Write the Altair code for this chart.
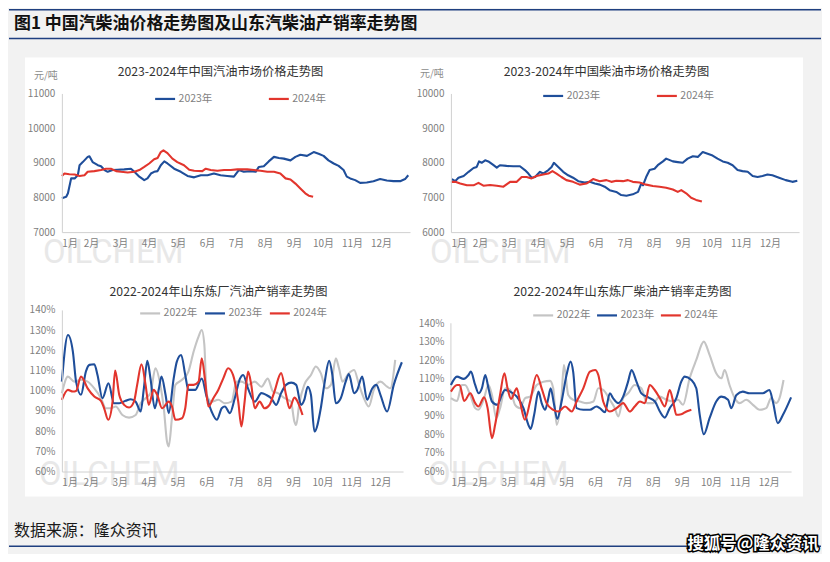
import altair as alt
import pandas as pd

# ---------------- labels ----------------
HEADER = "图1  中国汽柴油价格走势图及山东汽柴油产销率走势图"
FOOTER = "数据来源：隆众资讯"
SOURCE_MARK = "搜狐号@隆众资讯"
WATERMARK = "OILCHEM"
UNIT = "元/吨"
TITLES = [
    "2023-2024年中国汽油市场价格走势图",
    "2023-2024年中国柴油市场价格走势图",
    "2022-2024年山东炼厂汽油产销率走势图",
    "2022-2024年山东炼厂柴油产销率走势图",
]
MONTHS = ["1月", "2月", "3月", "4月", "5月", "6月", "7月", "8月", "9月", "10月", "11月", "12月"]
MONTH_POS = [0, 1, 2, 3, 4, 5, 6, 7, 8, 9, 10, 11]
GAS_PRICE_TICKS = [7000, 8000, 9000, 10000, 11000]
DSL_PRICE_TICKS = [6000, 7000, 8000, 9000, 10000]
RATIO_TICKS = [60, 70, 80, 90, 100, 110, 120, 130, 140]
YEARS_2 = ["2023年", "2024年"]
YEARS_3 = ["2022年", "2023年", "2024年"]
BLUE, RED, GREY = "#1f4e9a", "#e2352d", "#c4c4c4"

# ---------------- gasoline price (yuan/t), x = months since Jan 1 ----------------
gas_price_m23 = [0, 0.15, 0.21, 0.32, 0.44, 0.55, 0.61, 0.72, 0.89, 0.95,
                 1.06, 1.24, 1.35, 1.47, 1.58, 1.75, 1.92, 2.15, 2.38, 2.50,
                 2.67, 2.84, 2.95, 3.07, 3.18, 3.30, 3.41, 3.53, 3.64, 3.87,
                 4.10, 4.33, 4.56, 4.79, 5.02, 5.24, 5.47, 5.70, 5.93, 6.10,
                 6.27, 6.50, 6.68, 6.79, 6.96, 7.13, 7.31, 7.48, 7.65, 7.88,
                 8.05, 8.22, 8.45, 8.68, 8.85, 9.02, 9.19, 9.37, 9.54, 9.71,
                 9.82, 9.94, 10.11, 10.28, 10.51, 10.74, 10.97, 11.20, 11.43, 11.66,
                 11.83, 11.94]
gas_price_v23 = [7980, 8020, 8120, 8550, 8550, 8640, 8930, 9020, 9170, 9190,
                 9020, 8930, 8900, 8790, 8740, 8790, 8800, 8810, 8830, 8740,
                 8600, 8500, 8550, 8690, 8740, 8760, 8930, 9040, 8980, 8830,
                 8740, 8620, 8580, 8640, 8640, 8690, 8640, 8620, 8600, 8790,
                 8740, 8760, 8740, 8880, 8900, 9040, 9170, 9140, 9120, 9070,
                 9170, 9230, 9200, 9310, 9260, 9200, 9070, 8980, 8910, 8790,
                 8600, 8550, 8500, 8420, 8430, 8470, 8530, 8490, 8470, 8470,
                 8530, 8640]
gas_price_m24 = [0, 0.09, 0.26, 0.44, 0.61, 0.78, 0.89, 1.12, 1.35, 1.52,
                 1.69, 1.87, 2.04, 2.27, 2.50, 2.67, 2.84, 3.01, 3.18, 3.30,
                 3.41, 3.50, 3.64, 3.81, 3.98, 4.21, 4.39, 4.56, 4.84, 4.96,
                 5.13, 5.36, 5.59, 5.82, 6.05, 6.39, 6.62, 6.85, 7.08, 7.31,
                 7.53, 7.71, 7.88, 8.05, 8.22, 8.39, 8.51, 8.66]
gas_price_v24 = [8620, 8690, 8670, 8660, 8620, 8640, 8740, 8760, 8790, 8830,
                 8830, 8760, 8740, 8720, 8740, 8790, 8880, 8980, 9100, 9140,
                 9310, 9360, 9280, 9120, 9020, 8930, 8800, 8770, 8760, 8830,
                 8790, 8770, 8790, 8790, 8810, 8810, 8790, 8770, 8740, 8740,
                 8690, 8550, 8520, 8400, 8260, 8120, 8050, 8020]

# ---------------- diesel price (yuan/t) ----------------
dsl_price_m23 = [0.03, 0.15, 0.26, 0.44, 0.61, 0.78, 0.89, 0.97, 1.06, 1.18,
                 1.29, 1.47, 1.58, 1.69, 1.92, 2.15, 2.38, 2.55, 2.67, 2.78,
                 2.90, 3.07, 3.18, 3.36, 3.47, 3.55, 3.70, 3.87, 4.04, 4.21,
                 4.39, 4.61, 4.79, 4.96, 5.13, 5.30, 5.47, 5.70, 5.87, 6.05,
                 6.27, 6.45, 6.56, 6.62, 6.73, 6.85, 7.02, 7.13, 7.31, 7.42,
                 7.65, 7.82, 7.99, 8.16, 8.34, 8.51, 8.68, 8.85, 9.02, 9.19,
                 9.37, 9.54, 9.71, 9.88, 10.05, 10.23, 10.40, 10.57, 10.74, 10.91,
                 11.08, 11.31, 11.54, 11.77, 11.94]
dsl_price_v23 = [7530, 7470, 7570, 7620, 7740, 7850, 7880, 8040, 8000, 8070,
                 8040, 7930, 7860, 7930, 7910, 7900, 7900, 7790, 7690, 7570,
                 7590, 7740, 7690, 7790, 7880, 8000, 7880, 7740, 7640, 7570,
                 7470, 7430, 7450, 7400, 7370, 7310, 7210, 7160, 7070, 7050,
                 7090, 7160, 7400, 7350, 7590, 7790, 7830, 7930, 8040, 8120,
                 8040, 8020, 8000, 8120, 8190, 8170, 8310, 8260, 8210, 8120,
                 8040, 8000, 7930, 7790, 7760, 7740, 7620, 7590, 7620, 7660,
                 7640, 7570, 7500, 7450, 7480]
dsl_price_m24 = [0, 0.15, 0.32, 0.55, 0.78, 0.95, 1.12, 1.35, 1.58, 1.81,
                 2.04, 2.27, 2.44, 2.61, 2.78, 2.95, 3.18, 3.36, 3.50, 3.64,
                 3.81, 3.98, 4.21, 4.44, 4.67, 4.90, 5.13, 5.36, 5.53, 5.70,
                 5.93, 6.10, 6.27, 6.50, 6.73, 6.96, 7.19, 7.42, 7.65, 7.82,
                 7.94, 8.11, 8.28, 8.45, 8.65]
dsl_price_v24 = [7450, 7450, 7400, 7350, 7350, 7420, 7340, 7360, 7340, 7310,
                 7450, 7450, 7590, 7590, 7550, 7620, 7660, 7690, 7760, 7690,
                 7590, 7500, 7450, 7370, 7400, 7530, 7470, 7500, 7450, 7480,
                 7470, 7500, 7450, 7430, 7370, 7330, 7310, 7280, 7230, 7160,
                 7210, 7120, 6990, 6930, 6880]

# ---------------- Shandong gasoline sales ratio (%) ----------------
gas_ratio_m22 = [0, 0.21, 0.43, 0.66, 0.89, 1.12, 1.35, 1.52, 1.69, 1.86,
                 2.09, 2.32, 2.55, 2.72, 2.89, 3.06, 3.23, 3.40, 3.52, 3.63,
                 3.69, 3.80, 3.92, 4.15, 4.37, 4.55, 4.72, 4.83, 4.92, 5.00,
                 5.17, 5.40, 5.63, 5.86, 6.03, 6.20, 6.43, 6.66, 6.89, 7.11,
                 7.29, 7.46, 7.69, 7.91, 8.03, 8.09, 8.20, 8.37, 8.60, 8.77,
                 8.94, 9.12, 9.29, 9.46, 9.57, 9.69, 9.91, 10.09, 10.26, 10.43,
                 10.60, 10.77, 11.00, 11.23, 11.34, 11.51]
gas_ratio_v22 = [98.8, 107, 104.5, 105.4, 104.5, 101.2, 96.3, 91.3, 91.3, 92.2,
                 88, 86.7, 88, 93.8, 96.3, 98.8, 111.1, 102.9, 91.3, 74.8,
                 72.4, 86.4, 102.9, 105.4, 109.5, 119.4, 126.8, 130.1, 122.7, 97.9,
                 94.6, 95.5, 93.8, 94.6, 104.5, 104.5, 102.9, 104.5, 102, 106,
                 99.6, 98.8, 96.3, 94.6, 84.7, 83, 93.8, 102.9, 107.8, 112,
                 108.7, 101.2, 102.9, 116, 111.1, 104.5, 108.7, 110.3, 102.9, 96.3,
                 92.2, 100.4, 104.5, 102, 101.2, 115.3]
gas_ratio_m23 = [0, 0.21, 0.38, 0.49, 0.66, 0.83, 0.95, 1.12, 1.23, 1.40,
                 1.61, 1.80, 1.98, 2.20, 2.38, 2.55, 2.72, 2.83, 2.95, 3.06,
                 3.21, 3.35, 3.44, 3.58, 3.69, 3.86, 3.97, 4.12, 4.26, 4.37,
                 4.60, 4.83, 5.00, 5.17, 5.35, 5.52, 5.63, 5.80, 5.97, 6.15,
                 6.26, 6.43, 6.66, 6.89, 7.06, 7.23, 7.40, 7.57, 7.74, 7.92,
                 8.09, 8.26, 8.37, 8.49, 8.60, 8.72, 8.94, 9.06, 9.23, 9.34,
                 9.46, 9.63, 9.80, 9.91, 10.09, 10.20, 10.37, 10.54, 10.71, 10.86,
                 11.00, 11.23, 11.46, 11.74]
gas_ratio_v23 = [104.5, 127.6, 119.4, 104.5, 98, 109.5, 112.8, 113.1, 107.8, 96.3,
                 103.7, 93.8, 93.8, 95, 95.8, 94.6, 89.7, 101, 114.8, 106,
                 91.3, 101, 107, 98, 88.9, 106, 114.4, 117.7, 107.8, 100.4,
                 100.4, 106, 97, 89.7, 85.6, 91.3, 92.2, 88.9, 96.3, 106,
                 107.8, 101, 94.6, 98.8, 97.9, 96.3, 93, 98.8, 102.9, 104,
                 102.9, 93, 95.5, 102, 98, 79.8, 91.3, 102.9, 114.8, 107.8,
                 93.8, 96.3, 104.5, 108.2, 98.8, 100.4, 107, 95.5, 101, 102.9,
                 98, 89.7, 102.9, 114.1]
gas_ratio_m24 = [0, 0.21, 0.38, 0.49, 0.66, 0.89, 1.12, 1.35, 1.46, 1.60,
                 1.75, 1.84, 1.98, 2.15, 2.32, 2.49, 2.60, 2.75, 2.89, 3.00,
                 3.17, 3.29, 3.46, 3.69, 3.80, 3.92, 4.15, 4.26, 4.37, 4.55,
                 4.72, 4.83, 4.95, 5.06, 5.23, 5.40, 5.57, 5.74, 5.91, 6.09,
                 6.20, 6.31, 6.43, 6.54, 6.66, 6.83, 7.00, 7.17, 7.34, 7.57,
                 7.74, 7.86, 8.03, 8.14, 8.31]
gas_ratio_v24 = [95.5, 100.4, 99.6, 99.9, 107, 101.2, 97.1, 95, 91.3, 85.6,
                 94.6, 110, 98, 93, 91.7, 94.6, 102.9, 113.1, 102.9, 93,
                 100.4, 98, 91.3, 94.6, 92.2, 85.6, 86.4, 91.3, 102.9, 102.9,
                 104.5, 116, 104.5, 92.2, 96.3, 100.4, 106, 111.1, 107.8, 94.6,
                 82.3, 94.6, 109.5, 102.9, 91.3, 94.6, 91.3, 93, 99.6, 108.7,
                 98, 91.3, 96.6, 94.6, 88]

# ---------------- Shandong diesel sales ratio (%) ----------------
dsl_ratio_m22 = [0, 0.21, 0.38, 0.49, 0.67, 0.84, 0.95, 1.13, 1.30, 1.42,
                 1.57, 1.70, 1.88, 2.05, 2.22, 2.39, 2.57, 2.74, 2.97, 3.20,
                 3.43, 3.54, 3.66, 3.83, 3.91, 4.06, 4.23, 4.46, 4.70, 4.93,
                 5.10, 5.27, 5.50, 5.67, 5.79, 5.96, 6.13, 6.36, 6.59, 6.79,
                 6.99, 7.23, 7.46, 7.69, 7.86, 8.03, 8.26, 8.49, 8.75, 8.95,
                 9.18, 9.36, 9.47, 9.64, 9.82, 9.99, 10.22, 10.45, 10.68, 10.91,
                 11.08, 11.25, 11.37, 11.51]
dsl_ratio_v22 = [99.6, 98.1, 106.7, 106.7, 101.3, 94.2, 93.3, 98.7, 106.7, 101.3,
                 88.8, 94.2, 104.9, 104, 96, 94.2, 99.6, 100.4, 106.7, 108.5,
                 108.9, 104.9, 85.2, 101.3, 117.5, 101.3, 98.7, 97.8, 96.9, 97.8,
                 104.9, 104, 98.7, 94.2, 89.7, 99.6, 102.2, 106.7, 104.9, 96.9,
                 96.9, 100.4, 98.7, 97.8, 98.7, 96, 110.3, 120.2, 130.1, 122.9,
                 113, 110.3, 114.8, 106.7, 99.6, 96.9, 98.7, 96, 93.3, 94.2,
                 99.6, 96.9, 99.6, 109.4]
dsl_ratio_m23 = [0, 0.21, 0.44, 0.61, 0.69, 0.84, 0.96, 1.07, 1.19, 1.30,
                 1.42, 1.61, 1.76, 1.87, 2.05, 2.28, 2.51, 2.68, 2.76, 2.88,
                 3.03, 3.14, 3.26, 3.37, 3.45, 3.57, 3.68, 3.83, 4.00, 4.14,
                 4.23, 4.35, 4.58, 4.81, 5.04, 5.15, 5.33, 5.50, 5.61, 5.79,
                 5.96, 6.13, 6.25, 6.42, 6.59, 6.83, 7.06, 7.23, 7.40, 7.57,
                 7.80, 7.97, 8.09, 8.32, 8.49, 8.61, 8.75, 8.95, 9.18, 9.36,
                 9.59, 9.70, 9.88, 10.10, 10.33, 10.56, 10.79, 11.02, 11.14, 11.31,
                 11.49, 11.77]
dsl_ratio_v23 = [106.7, 111.2, 110, 112.1, 113.9, 106.7, 102.2, 104.9, 112.1, 104.9,
                 97.8, 96, 101.3, 104, 103.1, 100.4, 94.2, 85.2, 83, 90.6,
                 103.1, 96.9, 93.3, 99.6, 104.9, 96, 88.4, 97.8, 112.1, 119.3,
                 113.9, 94.2, 93.3, 93.3, 95.1, 94.2, 92, 102.2, 99.6, 96.9,
                 100.4, 108.5, 114.8, 108.5, 102.2, 100, 97.8, 92.4, 89.1, 94.2,
                 99.6, 108.5, 111.2, 109.4, 104.9, 90.6, 80.1, 88.8, 97.8, 100.4,
                 98.7, 94.2, 101.3, 103.1, 102.2, 102.2, 102.2, 104, 97.8, 86.1,
                 90.6, 100]
dsl_ratio_m24 = [0, 0.21, 0.30, 0.46, 0.67, 0.84, 0.95, 1.15, 1.27, 1.42,
                 1.53, 1.70, 1.85, 1.96, 2.08, 2.28, 2.39, 2.56, 2.74, 2.97,
                 3.14, 3.31, 3.54, 3.72, 3.95, 4.18, 4.35, 4.58, 4.81, 4.99,
                 5.10, 5.27, 5.50, 5.73, 5.96, 6.19, 6.36, 6.54, 6.71, 6.88,
                 7.05, 7.23, 7.40, 7.57, 7.69, 7.80, 7.97, 8.15, 8.32]
dsl_ratio_v24 = [103.1, 106.7, 106.7, 98.1, 102.2, 96.9, 95.1, 100, 94.2, 78,
                 85.2, 101.3, 113, 104.9, 99.2, 104.9, 97.8, 87.9, 97.8, 112.1,
                 104.9, 96.9, 93.3, 92.4, 95.1, 92.4, 97.8, 104.9, 113.9, 114.8,
                 112.1, 97.8, 92.4, 94.2, 96.9, 92.4, 95.1, 97.8, 96.9, 106.7,
                 104, 99.6, 95.1, 104, 97.8, 90.6, 90.9, 92.4, 93.3]

FONT = "Noto Sans CJK SC"
MONTH_EXPR = "[" + ",".join("'%s'" % s for s in MONTHS) + "][datum.value]"


def series_frame(names, months_lists, value_lists):
    rows = []
    for name, ms, vs in zip(names, months_lists, value_lists):
        rows += [{"series": name, "m": m, "v": v} for m, v in zip(ms, vs)]
    return pd.DataFrame(rows)


def text_layer(text, x, y, **kw):
    return alt.Chart(pd.DataFrame({"t": [text]})).mark_text(**kw).encode(
        x=alt.value(x), y=alt.value(y), text="t:N")


def one_row():
    return alt.Chart(pd.DataFrame({"k": [0]}))


def panel(df, years, colors, width, height, xmax, ydom, yticks, yexpr, title, tx, ty,
          lx, ly, colpad, interp, wx, wy, unit_pos=None, show_domain=True, back=None):
    yscale = alt.Scale(domain=ydom, nice=False, zero=False)
    yaxis = alt.Axis(values=yticks, labelExpr=yexpr, title=None, domain=show_domain,
                     labelPadding=7, zindex=1, labelOverlap=False)
    x = alt.X("m:Q", scale=alt.Scale(domain=[0, xmax], nice=False, zero=False),
              axis=alt.Axis(values=MONTH_POS, labelExpr=MONTH_EXPR, title=None, labelPadding=6,
                            zindex=1, labelOverlap=False))
    y = alt.Y("v:Q", scale=yscale, axis=yaxis)
    color = alt.Color("series:N", scale=alt.Scale(domain=years, range=colors),
                      legend=alt.Legend(orient="none", legendX=lx, legendY=ly, direction="horizontal",
                                        title=None, symbolType="stroke", symbolSize=400,
                                        symbolStrokeWidth=2.2, labelFontSize=10.5, labelColor="#7f7f7f",
                                        labelFont=FONT, columnPadding=colpad, labelOffset=2, padding=0))
    layers = list(back or [])
    layers.append(text_layer(WATERMARK, wx, wy, align="left", baseline="alphabetic", font="Roboto",
                             fontSize=33, color="#d6d6d6", opacity=0.55))
    if not show_domain:
        layers.append(one_row().mark_rule(color="#d0d0d0", strokeWidth=1).encode(
            x=alt.value(0),
            y=alt.Y(datum=yticks[0], type="quantitative", scale=yscale, axis=yaxis),
            y2=alt.Y2(datum=yticks[-1])))
    layers.append(alt.Chart(df).mark_line(strokeWidth=2.1, interpolate=interp, strokeJoin="round")
                  .encode(x=x, y=y, color=color))
    layers.append(text_layer(title, tx, ty, align="center", baseline="middle", font=FONT,
                             fontSize=12.3, color="#333333"))
    if unit_pos is not None:
        layers.append(text_layer(UNIT, unit_pos[0], unit_pos[1], align="left", baseline="middle",
                                 font=FONT, fontSize=10, color="#8c8c8c"))
    return alt.layer(*layers).properties(width=width, height=height)


# page decoration, positioned relative to the first panel's plot origin
NAVY = "#1f3f80"
deco = [
    one_row().mark_rect(color="#f2f2f2").encode(
        x=alt.value(-53), x2=alt.value(761), y=alt.value(-85), y2=alt.value(455)),
    one_row().mark_rect(color="#ffffff").encode(
        x=alt.value(-37), x2=alt.value(743), y=alt.value(-36), y2=alt.value(404)),
    one_row().mark_rule(color=NAVY, strokeWidth=1.5).encode(
        x=alt.value(-53), x2=alt.value(761), y=alt.value(-84)),
    one_row().mark_rule(color=NAVY, strokeWidth=1.5).encode(
        x=alt.value(-53), x2=alt.value(761), y=alt.value(-55)),
    text_layer(HEADER, -48, -65, align="left", baseline="alphabetic", font=FONT,
               fontSize=17, fontWeight="bold", color="#111111"),
    text_layer(FOOTER, -48, 444, align="left", baseline="alphabetic", font=FONT,
               fontSize=16, color="#1a1a1a"),
    one_row().mark_rule(color=NAVY, strokeWidth=1.5).encode(
        x=alt.value(-53), x2=alt.value(761), y=alt.value(454)),
    text_layer(SOURCE_MARK, 759, 457, align="right", baseline="alphabetic", font=FONT,
               fontSize=16.5, fontWeight="bold", color="#000000", stroke="#000000", strokeWidth=3),
    text_layer(SOURCE_MARK, 759, 457, align="right", baseline="alphabetic", font=FONT,
               fontSize=16.5, fontWeight="bold", color="#ffffff"),
]

df1 = series_frame(YEARS_2, [gas_price_m23, gas_price_m24], [gas_price_v23, gas_price_v24])
df2 = series_frame(YEARS_2, [dsl_price_m23, dsl_price_m24], [dsl_price_v23, dsl_price_v24])
df3 = series_frame(YEARS_3, [gas_ratio_m22, gas_ratio_m23, gas_ratio_m24],
                   [gas_ratio_v22, gas_ratio_v23, gas_ratio_v24])
df4 = series_frame(YEARS_3, [dsl_ratio_m22, dsl_ratio_m23, dsl_ratio_m24],
                   [dsl_ratio_v22, dsl_ratio_v23, dsl_ratio_v24])

p1 = panel(df1, YEARS_2, [BLUE, RED], 349, 139, 12, [7000, 11000], GAS_PRICE_TICKS, "datum.value",
           TITLES[0], 159, -22, 92, -6, 52, "linear", -19, 170, unit_pos=(-28, -17), back=deco)
p2 = panel(df2, YEARS_2, [BLUE, RED], 349, 139, 12, [6000, 10000], DSL_PRICE_TICKS, "datum.value",
           TITLES[1], 156, -22, 91, -9, 52, "linear", -21, 170, unit_pos=(-31, -20))
p3 = panel(df3, YEARS_3, [GREY, BLUE, RED], 342, 162, 11.78, [60, 140], RATIO_TICKS,
           "datum.value + '%'", TITLES[2], 157, -18, 77, -8, 3, "monotone", -23, 175)
p4 = panel(df4, YEARS_3, [GREY, BLUE, RED], 341, 162, 11.77, [60, 147.2], RATIO_TICKS,
           "datum.value + '%'", TITLES[3], 172, -18, 81, -6, 2, "monotone", -23, 175,
           show_domain=False)

chart = alt.concat(p1, p2, p3, p4, columns=2, spacing={"row": 78, "column": 41},
                   bounds="flush").resolve_scale(
    color="independent").resolve_legend(color="independent").properties(
    padding=0, background="#f2f2f2"
).configure(font=FONT).configure_view(stroke=None).configure_axis(
    labelFont=FONT, labelFontSize=10, labelColor="#808080", domainColor="#d0d0d0",
    domainWidth=1, ticks=False, grid=False
)

chart.save("out.html", embed_options={"renderer": "svg", "actions": False})
